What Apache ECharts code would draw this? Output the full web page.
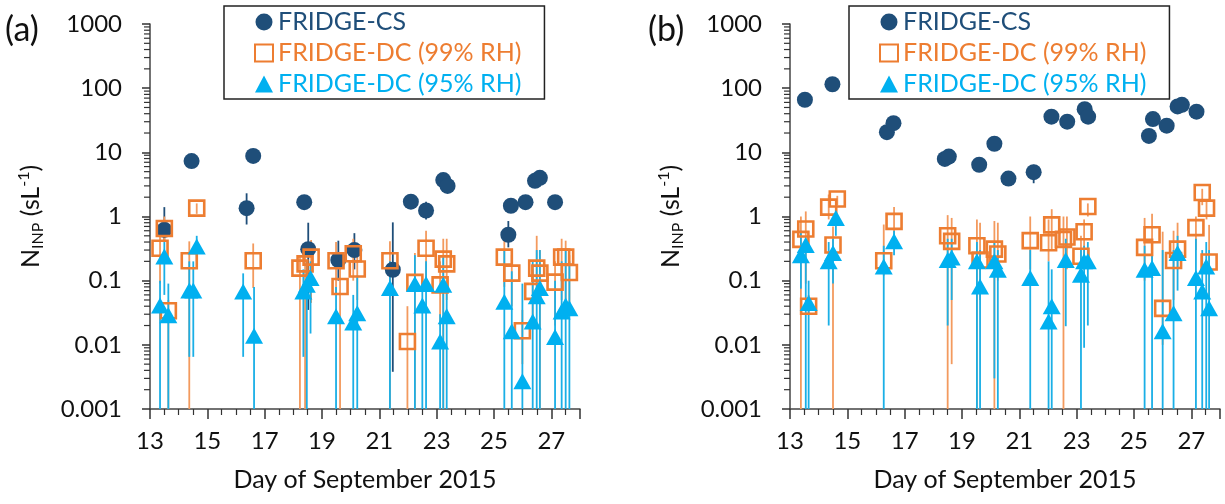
<!DOCTYPE html>
<html>
<head>
<meta charset="utf-8">
<script src="https://cdn.jsdelivr.net/npm/echarts@6/dist/echarts.min.js"></script>
<style>html,body{margin:0;padding:0;background:#fff}#c{width:1225px;height:504px}</style>
</head>
<body>
<div id="c"></div>
<script>
// ---- data (a) ----
var csA_day = [13.5,14.45,16.37,16.6,18.38,18.52,19.57,20.13,21.47,22.1,22.63,23.23,23.38,25.5,25.59,26.1,26.43,26.6,27.13];
var csA_val = [0.62,7.3,1.35,8.8,1.67,0.31,0.21,0.30,0.148,1.7,1.24,3.7,3.0,0.52,1.47,1.67,3.6,4.0,1.67];
var csA_lo  = [0.4,6.5,0.75,8,1.5,0.035,0.1,0.15,0.0038,1.5,0.9,3.3,2.7,0.33,1.3,1.5,3.2,3.6,1.5];
var csA_hi  = [1.4,8.2,2.3,9.8,1.9,0.8,0.42,0.55,0.81,1.9,1.7,4.1,3.4,0.85,1.65,1.9,4.0,4.5,1.9];

var dc99A_day = [13.35,13.5,13.64,14.37,14.63,16.6,18.23,18.41,18.62,19.49,19.63,20.09,20.23,21.37,21.98,22.24,22.63,23.12,23.23,23.35,25.36,25.62,25.99,26.35,26.49,26.6,27.13,27.36,27.5,27.63];
var dc99A_val = [0.32,0.65,0.034,0.204,1.35,0.204,0.157,0.183,0.233,0.204,0.081,0.263,0.152,0.204,0.0113,0.094,0.32,0.086,0.217,0.183,0.233,0.131,0.0166,0.068,0.157,0.131,0.095,0.233,0.233,0.134];
var dc99A_lo  = [0.09,0.4,0,0,1.1,0.077,0,0,0.045,0.06,0,0.1,0.05,0,0,0,0.1,0.02,0,0.05,0.08,0.04,0.005,0.02,0.05,0,0.02,0.05,0.05,0.04];
var dc99A_hi  = [0.5,1.0,0.05,0.41,1.6,0.38,0.25,0.3,0.43,0.4,0.2,0.45,0.3,0.41,0.04,0.27,0.6,0.2,0.45,0.45,0.45,0.25,0.035,0.15,0.5,0.3,0.2,0.45,0.42,0.25];

var dc95A_day = [13.35,13.5,13.64,14.37,14.51,14.63,16.25,16.63,18.35,18.47,18.6,19.49,20.09,20.23,21.37,22.24,22.5,22.63,23.12,23.23,23.35,25.36,25.62,25.99,26.35,26.49,26.6,27.13,27.36,27.5,27.63];
var dc95A_val = [0.041,0.238,0.029,0.070,0.070,0.34,0.068,0.0139,0.068,0.086,0.11,0.028,0.0223,0.031,0.077,0.089,0.041,0.089,0.0113,0.086,0.028,0.047,0.0163,0.0027,0.023,0.057,0.077,0.0132,0.033,0.041,0.037];
var dc95A_lo  = [0,0.06,0,0.0065,0.0065,0.2,0.0065,0,0.0065,0,0.015,0,0,0,0,0,0,0,0,0,0,0,0,0,0,0,0,0,0,0,0];
var dc95A_hi  = [0.1,0.4,0.09,0.2,0.2,0.5,0.13,0.08,0.15,0.2,0.2,0.08,0.06,0.12,0.2,0.25,0.1,0.2,0.03,0.25,0.08,0.3,0.14,0.09,0.2,0.3,0.3,0.1,0.2,0.3,0.2];

// ---- data (b) ----
var csB_day = [13.52,14.48,16.38,16.61,18.4,18.54,19.6,20.13,20.62,21.5,22.12,22.67,23.28,23.4,25.52,25.66,26.14,26.52,26.67,27.18];
var csB_val = [66,115,20.6,28.5,7.9,8.6,6.4,13.6,3.9,4.9,36,30,47,36,18,33,26,52,55,43];
var csB_lo  = [60,105,19,26,7.2,7.8,5.8,12.4,3.5,3.3,33,27,43,33,16.5,30,24,47,50,39];
var csB_hi  = [72,126,22.5,31,8.7,9.4,7,14.8,4.3,6.4,39,33,51,39,19.5,36,28.5,57,60,47];

var dc99B_day = [13.38,13.55,13.65,14.35,14.5,14.65,16.27,16.63,18.5,18.64,19.52,19.63,20.13,20.25,21.38,22.02,22.13,22.54,22.66,23.15,23.26,23.39,25.37,25.63,26.0,26.38,26.52,27.16,27.38,27.53,27.62];
var dc99B_val = [0.44,0.64,0.040,1.4,0.36,1.87,0.204,0.84,0.5,0.41,0.35,0.21,0.31,0.26,0.42,0.39,0.74,0.44,0.48,0.24,0.58,1.43,0.33,0.52,0.037,0.206,0.31,0.67,2.37,1.35,0.195];
var dc99B_lo  = [0,0.09,0.03,0.9,0,1.5,0.12,0.5,0,0.005,0,0.05,0,0.1,0.15,0.2,0.3,0,0.15,0.1,0.2,1.0,0.1,0.15,0.01,0.05,0.15,0.3,1.5,0.9,0.05];
var dc99B_hi  = [1.0,1.2,0.06,2.2,0.7,2.1,0.75,1.4,1.05,0.95,0.9,0.8,0.85,0.8,1.0,0.9,1.3,1.0,1.0,0.5,0.9,1.6,0.95,1.1,0.58,0.6,0.8,1.0,2.7,1.8,0.74];

var dc95B_day = [13.38,13.55,13.65,14.35,14.5,14.6,16.27,16.63,18.5,18.64,19.52,19.63,20.13,20.25,21.38,22.02,22.13,22.62,23.15,23.26,23.39,25.37,25.63,26.0,26.38,26.52,27.16,27.38,27.52,27.62];
var dc95B_val = [0.25,0.36,0.045,0.2,0.27,0.95,0.166,0.41,0.21,0.23,0.2,0.081,0.2,0.148,0.11,0.023,0.040,0.21,0.124,0.2,0.2,0.148,0.157,0.0163,0.031,0.27,0.11,0.068,0.166,0.037];
var dc95B_lo  = [0.075,0,0,0.02,0.09,0.5,0,0.25,0.02,0.05,0,0,0.003,0,0,0,0,0.0195,0,0.009,0.02,0,0,0,0,0.07,0,0,0,0];
var dc95B_hi  = [0.6,0.45,0.1,0.4,0.45,1.3,0.35,0.6,0.45,0.45,0.4,0.3,0.4,0.3,0.3,0.2,0.15,0.45,0.3,0.35,0.4,0.35,0.4,0.3,0.3,0.5,0.45,0.3,0.4,0.3];

var seriesNames = ['FRIDGE-CS', 'FRIDGE-DC (99% RH)', 'FRIDGE-DC (95% RH)'];
var xTicks = [13, 15, 17, 19, 21, 23, 25, 27];
var yTickLabels = ['0.001', '0.01', '0.1', '1', '10', '100', '1000'];
var Y_MIN = 0.001, Y_MAX = 1000;

var C_CS = '#1F4E79', C_99 = '#ED7D31', C_95 = '#00B0F0';
var FONT = 'Lato, "Open Sans", sans-serif';

var minorVals = [];
for (var e = -3; e < 3; e++) for (var k = 2; k < 10; k++) minorVals.push(k * Math.pow(10, e));

function pts(days, vals) { return days.map(function (d, i) { return [d, vals[i]]; }); }
function bars(days, vals, lo, hi) { return days.map(function (d, i) { return [d, vals[i], lo[i], hi[i]]; }); }

function errSeries(p, data, color) {
	return {
		type: 'custom', xAxisIndex: p, yAxisIndex: p, silent: true,
		encode: { x: 0, y: 1 }, data: data,
		renderItem: function (params, api) {
			var x = api.value(0);
			var lo = Math.max(api.value(2), Y_MIN), hi = Math.min(api.value(3), Y_MAX);
			var a = api.coord([x, hi]), b = api.coord([x, lo]);
			return { type: 'line', shape: { x1: a[0], y1: a[1], x2: b[0], y2: b[1] },
				style: { stroke: color, lineWidth: 1.8 } };
		}
	};
}

function minorTickSeries(p) {
	return {
		type: 'custom', xAxisIndex: p, yAxisIndex: p, silent: true,
		encode: { x: 0, y: 1 },
		data: minorVals.map(function (v) { return [13, v]; }),
		renderItem: function (params, api) {
			var c = api.coord([api.value(0), api.value(1)]);
			return { type: 'line', shape: { x1: c[0] - 6, y1: c[1], x2: c[0], y2: c[1] },
				style: { stroke: '#333', lineWidth: 1.2 } };
		}
	};
}

function panelSeries(p, cs, d99, d95) {
	return [
		minorTickSeries(p),
		errSeries(p, cs.err, C_CS),
		{ type: 'scatter', name: seriesNames[0], xAxisIndex: p, yAxisIndex: p, symbol: 'circle', symbolSize: 16,
			itemStyle: { color: C_CS, opacity: 1 }, data: cs.pts },
		errSeries(p, d99.err, '#F39A5E'),
		{ type: 'scatter', name: seriesNames[1], xAxisIndex: p, yAxisIndex: p, symbol: 'rect', symbolSize: 15,
			itemStyle: { color: 'rgba(255,255,255,0)', borderColor: C_99, borderWidth: 2.6, opacity: 1 }, data: d99.pts },
		errSeries(p, d95.err, '#1AAFE6'),
		{ type: 'scatter', name: seriesNames[2], xAxisIndex: p, yAxisIndex: p, symbol: 'triangle', symbolSize: [18, 16],
			itemStyle: { color: C_95, opacity: 1 }, data: d95.pts }
	];
}

function xAxisCfg(p) {
	return {
		type: 'value', gridIndex: p, min: 13, max: 28, interval: 2,
		name: 'Day of September 2015', nameLocation: 'middle', nameGap: 58,
		nameTextStyle: { fontFamily: FONT, fontSize: 25, color: '#111' },
		axisLine: { show: true, onZero: false, lineStyle: { color: '#444', width: 1.5 } },
		axisTick: { show: true, length: 10, lineStyle: { color: '#333', width: 1.5 } },
		minorTick: { show: true, splitNumber: 4, length: 6, lineStyle: { color: '#333', width: 1.2 } },
		splitLine: { show: false },
		axisLabel: { margin: 20, fontFamily: FONT, fontSize: 24, color: '#111', showMaxLabel: false,
			formatter: function (v) { return xTicks.indexOf(v) >= 0 ? String(v) : ''; } }
	};
}

function yAxisCfg(p) {
	return {
		type: 'log', logBase: 10, gridIndex: p, min: Y_MIN, max: Y_MAX,
		name: '{n|N}{sub|INP}{n| (sL}{sup|-1}{n|)}', nameLocation: 'middle', nameRotate: 90, nameGap: 104,
		nameTextStyle: { fontFamily: FONT, color: '#111',
			rich: {
				n: { fontFamily: FONT, fontSize: 25, color: '#111', lineHeight: 30 },
				sub: { fontFamily: FONT, fontSize: 16, color: '#111', lineHeight: 30, verticalAlign: 'bottom' },
				sup: { fontFamily: FONT, fontSize: 16, color: '#111', lineHeight: 30, verticalAlign: 'top' }
			} },
		axisLine: { show: true, onZero: false, lineStyle: { color: '#444', width: 1.5 } },
		axisTick: { show: true, length: 8, lineStyle: { color: '#333', width: 1.5 } },
		splitLine: { show: false },
		axisLabel: { margin: 28, fontFamily: FONT, fontSize: 24, color: '#111',
			formatter: function (v) { return yTickLabels[Math.round(Math.log10(v)) + 3]; } }
	};
}

function legendCfg(left) {
	return {
		orient: 'vertical', left: left, top: 6, itemGap: 3, itemWidth: 18, itemHeight: 17,
		padding: [2, 23, 1, 30], borderColor: '#222', borderWidth: 1.5, borderRadius: 0,
		selectedMode: false,
		textStyle: { fontFamily: FONT, fontSize: 25, lineHeight: 28 },
		data: [
			{ name: seriesNames[0], textStyle: { color: C_CS } },
			{ name: seriesNames[1], textStyle: { color: C_99 } },
			{ name: seriesNames[2], textStyle: { color: C_95 } }
		]
	};
}

var chart = echarts.init(document.getElementById('c'), null, { renderer: 'canvas' });
chart.setOption({
	backgroundColor: '#fff',
	animation: false,
	grid: [
		{ left: 150, top: 24, width: 430, height: 385 },
		{ left: 790, top: 24, width: 430, height: 385 }
	],
	xAxis: [xAxisCfg(0), xAxisCfg(1)],
	yAxis: [yAxisCfg(0), yAxisCfg(1)],
	legend: [legendCfg(224), legendCfg(849)],
	graphic: [
		{ type: 'text', left: 5, top: 13, style: { text: '(a)', fontFamily: FONT, fontSize: 34, fill: '#111' } },
		{ type: 'text', left: 648, top: 13, style: { text: '(b)', fontFamily: FONT, fontSize: 34, fill: '#111' } }
	],
	series: [].concat(
		panelSeries(0,
			{ pts: pts(csA_day, csA_val), err: bars(csA_day, csA_val, csA_lo, csA_hi) },
			{ pts: pts(dc99A_day, dc99A_val), err: bars(dc99A_day, dc99A_val, dc99A_lo, dc99A_hi) },
			{ pts: pts(dc95A_day, dc95A_val), err: bars(dc95A_day, dc95A_val, dc95A_lo, dc95A_hi) }),
		panelSeries(1,
			{ pts: pts(csB_day, csB_val), err: bars(csB_day, csB_val, csB_lo, csB_hi) },
			{ pts: pts(dc99B_day, dc99B_val), err: bars(dc99B_day, dc99B_val, dc99B_lo, dc99B_hi) },
			{ pts: pts(dc95B_day, dc95B_val), err: bars(dc95B_day, dc95B_val, dc95B_lo, dc95B_hi) })
	)
});
</script>
</body>
</html>
